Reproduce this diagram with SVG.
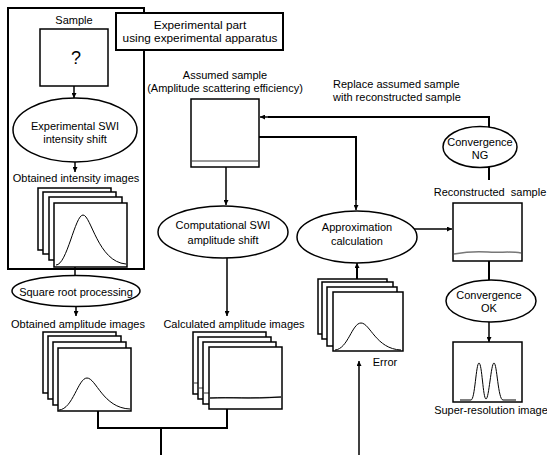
<svg xmlns="http://www.w3.org/2000/svg" width="547" height="455" viewBox="0 0 547 455">
<style>
text{font-family:"Liberation Sans",Arial,sans-serif;font-size:11px;fill:#000;text-anchor:middle}
.s{text-anchor:start}
.big{font-size:11.8px}
.fr{fill:#fff;stroke:#000;stroke-width:1.5}
.el{fill:#fff;stroke:#000;stroke-width:1.5}
.ln{fill:none;stroke:#000;stroke-width:1.5}
.tk{fill:none;stroke:#000;stroke-width:2}
.cv{fill:none;stroke:#000;stroke-width:1}
.gy{fill:none;stroke:#777;stroke-width:1.5}
</style>
<defs>
<marker id="ah" viewBox="0 0 10 10" refX="10" refY="5" markerWidth="5" markerHeight="5" orient="auto" markerUnits="userSpaceOnUse">
<path d="M0,0 L10,5 L0,10 z" fill="#000"/>
</marker>
</defs>
<rect width="547" height="455" fill="#fff"/>

<g id="experimental-frame">
<rect x="8" y="8" width="136" height="261" fill="none" stroke="#000" stroke-width="2"/>
</g>

<g id="connectors">
<path class="ln" d="M74,86 V98" marker-end="url(#ah)"/>
<path class="ln" d="M75,162 V172" marker-end="url(#ah)"/>
<path class="ln" d="M75,267 V276"/>
<path class="ln" d="M76,307 V316" marker-end="url(#ah)"/>
<path class="tk" d="M98,411 V428 H227 V409 M161,428 V455"/>
<path class="ln" d="M226,167 V205" marker-end="url(#ah)"/>
<path class="ln" d="M227,258 V316" marker-end="url(#ah)"/>
<path class="tk" d="M259,137 H356 V200"/>
<path class="ln" d="M356,198 V210" marker-end="url(#ah)"/>
<path class="tk" d="M357,279 V266"/>
<path class="ln" d="M357,270 V263" marker-end="url(#ah)"/>
<path class="ln" d="M359,455 V361" marker-end="url(#ah)"/>
<path class="ln" d="M414,229 H452" marker-end="url(#ah)"/>
<path class="tk" d="M489,127 V117 H268"/>
<path class="ln" d="M270,117 H260" marker-end="url(#ah)"/>
<path class="tk" d="M489,167 V180"/>
<path class="tk" d="M489,261 V280"/>
<path class="ln" d="M489,322 V342" marker-end="url(#ah)"/>
</g>

<g id="experimental-part-label">
<rect x="116" y="13" width="167" height="37" fill="#fff" stroke="#000" stroke-width="2"/>
<text class="big" x="200" y="29">Experimental part</text>
<text class="big" x="200" y="42">using experimental apparatus</text>
</g>

<g id="sample">
<text x="74" y="24">Sample</text>
<rect class="fr" x="40" y="29" width="68" height="57"/>
<text x="76" y="64" style="font-size:18px">?</text>
</g>

<g id="experimental-swi">
<ellipse class="el" cx="75" cy="130" rx="62" ry="32"/>
<text x="75" y="130">Experimental SWI</text>
<text x="75" y="143">intensity shift</text>
</g>

<g id="intensity-images">
<text x="76" y="182">Obtained intensity images</text>
<rect class="fr" x="38" y="188" width="73" height="62"/>
<rect class="fr" x="43" y="192" width="73" height="62"/>
<rect class="fr" x="49" y="197" width="73" height="63"/>
<rect class="fr" x="54" y="203" width="73" height="64"/>
<path class="cv" d="M56,265 C67,265 75,215 83,215 C91,215 98,262 126,264"/>
</g>

<g id="square-root">
<ellipse class="el" cx="76" cy="291" rx="64" ry="15.5"/>
<text x="76" y="296">Square root processing</text>
</g>

<g id="amplitude-images">
<text x="78" y="328">Obtained amplitude images</text>
<rect class="fr" x="43" y="332" width="73" height="61"/>
<rect class="fr" x="48" y="336" width="73" height="63"/>
<rect class="fr" x="53" y="342" width="73" height="63"/>
<rect class="fr" x="58" y="348" width="73" height="63"/>
<path class="cv" d="M59,410 C73,409 78,378 87,378 C96,378 103,408 130,409"/>
</g>

<g id="assumed-sample">
<text x="225" y="79">Assumed sample</text>
<text x="225" y="92">(Amplitude scattering efficiency)</text>
<rect class="fr" x="191" y="99" width="68" height="68"/>
<path class="gy" d="M192,161 H258"/>
</g>

<g id="replace-label">
<text class="s" x="333" y="88">Replace assumed sample</text>
<text class="s" x="333" y="101">with reconstructed sample</text>
</g>

<g id="computational-swi">
<ellipse class="el" cx="223" cy="232" rx="65" ry="26"/>
<text x="223" y="229">Computational SWI</text>
<text x="223" y="244">amplitude shift</text>
</g>

<g id="calculated-images">
<text x="234" y="328">Calculated amplitude images</text>
<rect class="fr" x="193" y="332" width="73" height="62"/>
<path class="gy" d="M194,383 H203"/>
<rect class="fr" x="198" y="337" width="73" height="62"/>
<path class="gy" d="M199,388 H208"/>
<rect class="fr" x="203" y="342" width="73" height="62"/>
<path class="gy" d="M204,393 H214"/>
<rect class="fr" x="209" y="347" width="73" height="62"/>
<path class="gy" d="M210,398 C230,397 250,399 281,397"/>
<path class="cv" d="M210,398 C230,397 250,399 281,397"/>
</g>

<g id="approximation">
<ellipse class="el" cx="357" cy="237" rx="60" ry="26"/>
<text x="357" y="231">Approximation</text>
<text x="357" y="245">calculation</text>
</g>

<g id="error-images">
<rect class="fr" x="318" y="279" width="69" height="55"/>
<rect class="fr" x="322" y="282" width="71" height="57"/>
<rect class="fr" x="327" y="287" width="70" height="59"/>
<rect class="fr" x="333" y="292" width="70" height="59"/>
<path class="cv" d="M335,350 C348,349 352,323 361,323 C370,323 376,349 401,350"/>
<text x="385" y="366">Error</text>
</g>

<g id="convergence-ng">
<ellipse class="el" cx="480" cy="147" rx="37" ry="20.5"/>
<text x="480" y="146">Convergence</text>
<text x="480" y="159">NG</text>
</g>

<g id="reconstructed-sample">
<text x="490" y="196" xml:space="preserve">Reconstructed  sample</text>
<rect class="fr" x="453" y="203" width="69" height="58"/>
<path class="gy" d="M454,254 C465,252 475,251 488,252 C500,253 510,251 521,253"/>
</g>

<g id="convergence-ok">
<ellipse class="el" cx="491" cy="301" rx="45" ry="21"/>
<text x="489" y="299">Convergence</text>
<text x="489" y="312">OK</text>
</g>

<g id="super-resolution">
<rect class="fr" x="453" y="342" width="69" height="60"/>
<path class="cv" d="M460,400 H471 C475,400 476,363 479,363 C482,363 483,399 486,399 C489,399 491,363 494,363 C497,363 498,400 503,400 H516"/>
<text x="491" y="414">Super-resolution image</text>
</g>
</svg>
